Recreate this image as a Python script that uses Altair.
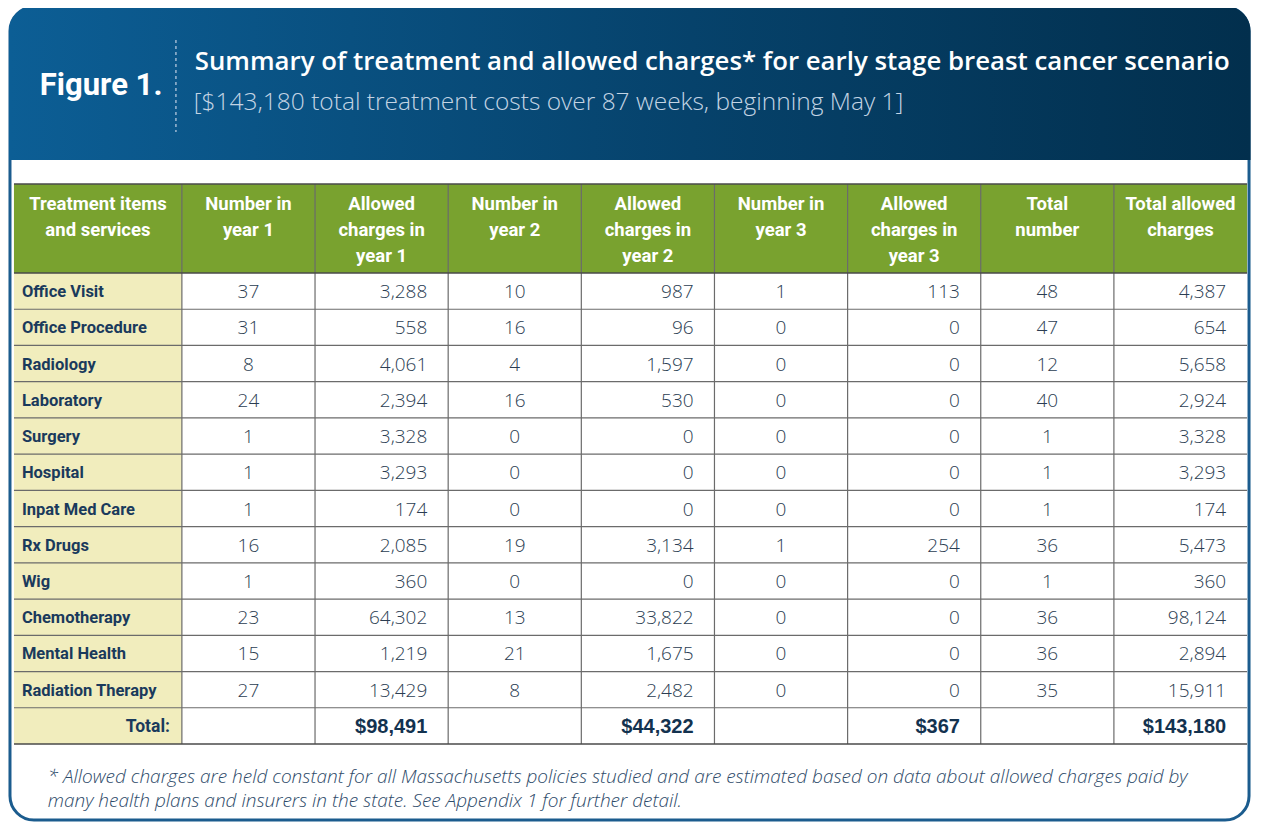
import altair as alt
import pandas as pd

# ---------------- data ----------------
items = ["Office Visit", "Office Procedure", "Radiology", "Laboratory", "Surgery",
         "Hospital", "Inpat Med Care", "Rx Drugs", "Wig", "Chemotherapy",
         "Mental Health", "Radiation Therapy"]
num_y1 = [37, 31, 8, 24, 1, 1, 1, 16, 1, 23, 15, 27]
chg_y1 = [3288, 558, 4061, 2394, 3328, 3293, 174, 2085, 360, 64302, 1219, 13429]
num_y2 = [10, 16, 4, 16, 0, 0, 0, 19, 0, 13, 21, 8]
chg_y2 = [987, 96, 1597, 530, 0, 0, 0, 3134, 0, 33822, 1675, 2482]
num_y3 = [1, 0, 0, 0, 0, 0, 0, 1, 0, 0, 0, 0]
chg_y3 = [113, 0, 0, 0, 0, 0, 0, 254, 0, 0, 0, 0]
num_tot = [48, 47, 12, 40, 1, 1, 1, 36, 1, 36, 36, 35]
chg_tot = [4387, 654, 5658, 2924, 3328, 3293, 174, 5473, 360, 98124, 2894, 15911]
total_label = "Total:"
totals = ["", "$98,491", "", "$44,322", "", "$367", "", "$143,180"]

headers = ["Treatment items\nand services", "Number in\nyear 1", "Allowed\ncharges in\nyear 1",
           "Number in\nyear 2", "Allowed\ncharges in\nyear 2", "Number in\nyear 3",
           "Allowed\ncharges in\nyear 3", "Total\nnumber", "Total allowed\ncharges"]

fig_label = "Figure 1."
title = "Summary of treatment and allowed charges* for early stage breast cancer scenario"
subtitle = "[$143,180 total treatment costs over 87 weeks, beginning May 1]"
footnote = ["* Allowed charges are held constant for all Massachusetts policies studied and are estimated based on data about allowed charges paid by",
            "many health plans and insurers in the state. See Appendix 1 for further detail."]

# ---------------- layout ----------------
W, H = 1246, 814
xs = alt.Scale(domain=[8, 1262], range=[0, W], nice=False, zero=False)
ys = alt.Scale(domain=[8, 822], range=[0, H], nice=False, zero=False)

TL, first_w, col_w = 14, 169, 134
col_edges = [TL] + [TL + first_w + i * col_w for i in range(9)]
HEAD_TOP, HEAD_BOT, TAB_BOT = 184, 273, 744
n_rows = len(items) + 1
row_h = (TAB_BOT - HEAD_BOT) / n_rows
row_edges = [HEAD_BOT + i * row_h for i in range(n_rows + 1)]

BOLD = "Roboto, Liberation Sans, sans-serif"
LIGHT = "Open Sans, Roboto, Liberation Sans, sans-serif"
NAVY = "#1a3a5c"
NUMC = "#2b3d52"


def X(f="x"):
    return alt.X(f"{f}:Q", scale=xs, axis=None)


def Y(f="y"):
    return alt.Y(f"{f}:Q", scale=ys, axis=None)


def rect(df, **kw):
    return alt.Chart(df).mark_rect(**kw).encode(
        x=X("x"), x2=alt.X2("x2"), y=Y("y"), y2=alt.Y2("y2"))


# frame
frame = rect(pd.DataFrame({"x": [10], "x2": [1257], "y": [7], "y2": [820]}),
             fill="white", stroke="#1b5c8e", strokeWidth=3, cornerRadius=24)
grad = alt.Gradient(gradient="linear",
                    stops=[alt.GradientStop(color="#0c5e95", offset=0),
                           alt.GradientStop(color="#06426b", offset=0.55),
                           alt.GradientStop(color="#022f4d", offset=1)],
                    x1=0, x2=1, y1=0, y2=0)
banner = rect(pd.DataFrame({"x": [9], "x2": [1258.5], "y": [6], "y2": [160]}),
              fill=grad, cornerRadiusTopLeft=25, cornerRadiusTopRight=25)

head_bg = rect(pd.DataFrame({"x": [col_edges[0]], "x2": [col_edges[-1]],
                             "y": [HEAD_TOP], "y2": [HEAD_BOT]}), fill="#79a22f")
first_bg = rect(pd.DataFrame({"x": [col_edges[0]], "x2": [col_edges[1]],
                              "y": [HEAD_BOT], "y2": [TAB_BOT]}), fill="#f1edbd")

# grid lines
segs = []
for cx in col_edges[1:-1]:
    segs.append({"x": cx, "x2": cx, "y": HEAD_TOP, "y2": TAB_BOT})
for ry in row_edges[1:-1]:
    segs.append({"x": col_edges[0], "x2": col_edges[-1], "y": ry, "y2": ry})
grid = alt.Chart(pd.DataFrame(segs)).mark_rule(color="#6b6b6b", strokeWidth=1.2).encode(
    x=X("x"), x2=alt.X2("x2"), y=Y("y"), y2=alt.Y2("y2"))
outer = alt.Chart(pd.DataFrame([
    {"x": col_edges[0], "x2": col_edges[-1], "y": HEAD_TOP, "y2": HEAD_TOP},
    {"x": col_edges[0], "x2": col_edges[-1], "y": HEAD_BOT, "y2": HEAD_BOT},
    {"x": col_edges[0], "x2": col_edges[-1], "y": TAB_BOT, "y2": TAB_BOT},
])).mark_rule(color="#4a4a4a", strokeWidth=1.6).encode(
    x=X("x"), x2=alt.X2("x2"), y=Y("y"), y2=alt.Y2("y2"))

dash = alt.Chart(pd.DataFrame({"x": [177], "y": [40], "y2": [132]})).mark_rule(
    color="#9fb9d2", strokeWidth=1.5, strokeDash=[3, 3]).encode(
    x=X("x"), y=Y("y"), y2=alt.Y2("y2"))


def text_layer(rows, **kw):
    return alt.Chart(pd.DataFrame(rows)).mark_text(**kw).encode(
        x=X("x"), y=Y("y"), text="t:N")


# titles
fig_t = text_layer([{"x": 40, "y": 86, "t": fig_label}], align="left", baseline="middle",
                   font=BOLD, fontWeight="bold", fontSize=31, color="white")
title_t = text_layer([{"x": 196, "y": 62, "t": title}], align="left", baseline="middle",
                     font=LIGHT, fontWeight=600, fontSize=25.8, color="white")
sub_t = text_layer([{"x": 195, "y": 103, "t": subtitle}], align="left", baseline="middle",
                   font=LIGHT, fontWeight=300, fontSize=24.5, color="#c3d4e4")

# header cells
hrows = []
for i, h in enumerate(headers):
    hrows.append({"x": (col_edges[i] + col_edges[i + 1]) / 2, "y": 195, "t": h})
head_t = text_layer(hrows, align="center", baseline="top", lineBreak="\n", lineHeight=26,
                    font=BOLD, fontWeight="bold", fontSize=18.5, color="white")

# body
count_cols = [num_y1, num_y2, num_y3, num_tot]
charge_cols = [chg_y1, chg_y2, chg_y3, chg_tot]
lab_rows, cnt_rows, chg_rows = [], [], []
for r, name in enumerate(items):
    cy = (row_edges[r] + row_edges[r + 1]) / 2 + 1
    lab_rows.append({"x": col_edges[0] + 8, "y": cy, "t": name})
    for k in range(4):
        ci = 1 + 2 * k
        cnt_rows.append({"x": (col_edges[ci] + col_edges[ci + 1]) / 2, "y": cy,
                         "t": str(count_cols[k][r])})
        chg_rows.append({"x": col_edges[ci + 2] - 21, "y": cy,
                         "t": f"{charge_cols[k][r]:,}"})
lab_t = text_layer(lab_rows, align="left", baseline="middle", font=BOLD,
                   fontWeight="bold", fontSize=16.5, color=NAVY)
cnt_t = text_layer(cnt_rows, align="center", baseline="middle", font=LIGHT,
                   fontWeight=300, fontSize=19, color=NUMC)
chg_t = text_layer(chg_rows, align="right", baseline="middle", font=LIGHT,
                   fontWeight=300, fontSize=19, color=NUMC)

ty = (row_edges[-2] + row_edges[-1]) / 2 + 1
tot_lab = text_layer([{"x": col_edges[1] - 12, "y": ty, "t": total_label}], align="right",
                     baseline="middle", font=BOLD, fontWeight="bold", fontSize=17.5,
                     color=NAVY)
tot_rows = [{"x": col_edges[i + 2] - 21, "y": ty, "t": v} for i, v in enumerate(totals) if v]
tot_t = text_layer(tot_rows, align="right", baseline="middle",
                   font="Liberation Sans, Arial, sans-serif", fontWeight="bold", fontSize=20,
                   color="#13324f")

foot_t = text_layer([{"x": 48, "y": 777, "t": footnote[0]}, {"x": 48, "y": 801, "t": footnote[1]}],
                    align="left", baseline="middle", font=LIGHT, fontWeight=300,
                    fontStyle="italic", fontSize=19, color="#2d4a69")

chart = alt.layer(frame, banner, head_bg, first_bg, grid, outer, dash, fig_t, title_t, sub_t,
                  head_t, lab_t, cnt_t, chg_t, tot_lab, tot_t, foot_t).properties(
    width=W, height=H, padding=0, autosize=alt.AutoSizeParams(type="none")
).configure_view(stroke=None)

chart.save("out.html", embed_options={"renderer": "svg", "actions": False})
